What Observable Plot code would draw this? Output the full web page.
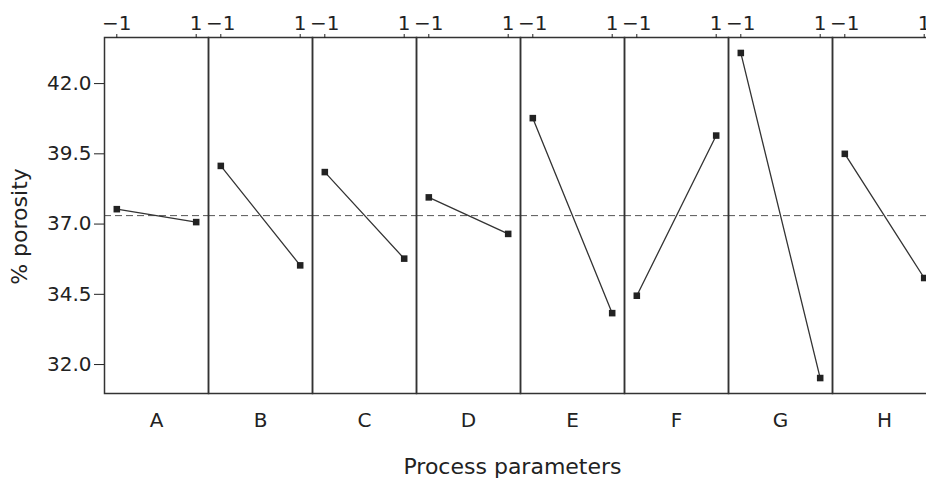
<!DOCTYPE html>
<html>
<head>
<meta charset="utf-8">
<script src="https://cdn.jsdelivr.net/npm/d3@7"></script>
<script src="https://cdn.jsdelivr.net/npm/@observablehq/plot@0.6"></script>
<style>
  html, body { margin: 0; padding: 0; background: #fff; overflow: hidden; }
</style>
</head>
<body>
<div id="chart"></div>
<script>
// Main effects of each process parameter on porosity (coded levels −1 / +1)
const params = ["A", "B", "C", "D", "E", "F", "G", "H"];
const levels = [-1, 1];
const porosityLow = [37.53, 39.07, 38.85, 37.95, 40.77, 34.45, 43.09, 39.50];
const porosityHigh = [37.07, 35.53, 35.77, 36.65, 33.83, 40.15, 31.52, 35.08];
const yTicks = [32.0, 34.5, 37.0, 39.5, 42.0];

const rows = params.flatMap((p, i) => [
  {param: p, level: levels[0], value: porosityLow[i]},
  {param: p, level: levels[1], value: porosityHigh[i]}
]);

// grand mean of all level means (dashed reference line)
const grandMean = d3.mean(rows, d => d.value);

const ink = "#333";
const font = "'DejaVu Sans', Verdana, sans-serif";

const chart = Plot.plot({
  width: 926,
  height: 481,
  marginLeft: 104,
  marginTop: 37,
  marginBottom: 88,
  marginRight: -10,
  style: {fontFamily: font, fontSize: "20px", color: "#222", background: "#fff"},
  fx: {domain: params, padding: 0, label: null},
  x: {domain: [-1.31, 1.31]},
  y: {domain: [30.97, 43.64]},
  marks: [
    Plot.ruleY([grandMean], {stroke: "#555", strokeWidth: 1, strokeDasharray: "7,4"}),
    Plot.frame({stroke: ink, strokeWidth: 1.5}),
    Plot.line(rows, {fx: "param", x: "level", y: "value", stroke: ink, strokeWidth: 1.3}),
    Plot.dot(rows, {fx: "param", x: "level", y: "value", symbol: "square", r: 3.7, fill: "#222", stroke: "none"}),
    Plot.axisX({anchor: "top", ticks: levels, tickFormat: "d", tickSize: 4, tickPadding: 4,
                label: null, fontSize: 20}),
    Plot.axisY({ticks: yTicks, tickFormat: ".1f", tickSize: 10, tickPadding: 3, fontSize: 20,
                label: null}),
    Plot.axisFx({anchor: "bottom", tickSize: 0, tickPadding: 19, fontSize: 20, label: null}),
    // axis titles
    Plot.axisY({ticks: [], tickSize: 0, fontSize: 22,
                label: "% porosity", labelArrow: "none", labelAnchor: "center", labelOffset: 93}),
    Plot.axisFx({ticks: [], tickSize: 0, fontSize: 22, anchor: "bottom",
                 label: "Process parameters", labelArrow: "none", labelAnchor: "center", labelOffset: 80})
  ]
});

// nudge the axis titles to sit centred on the visible part of the panel block
function nudge(selector, dx, dy) {
  d3.select(chart).selectAll(selector).attr("transform", function () {
    return `translate(${dx},${dy}) ` + (this.getAttribute("transform") || "");
  });
}
nudge('g[aria-label="y-axis label"]', 0, 11);
nudge('g[aria-label="fx-axis label"]', -8, 0);

document.getElementById("chart").appendChild(chart);
</script>
</body>
</html>
